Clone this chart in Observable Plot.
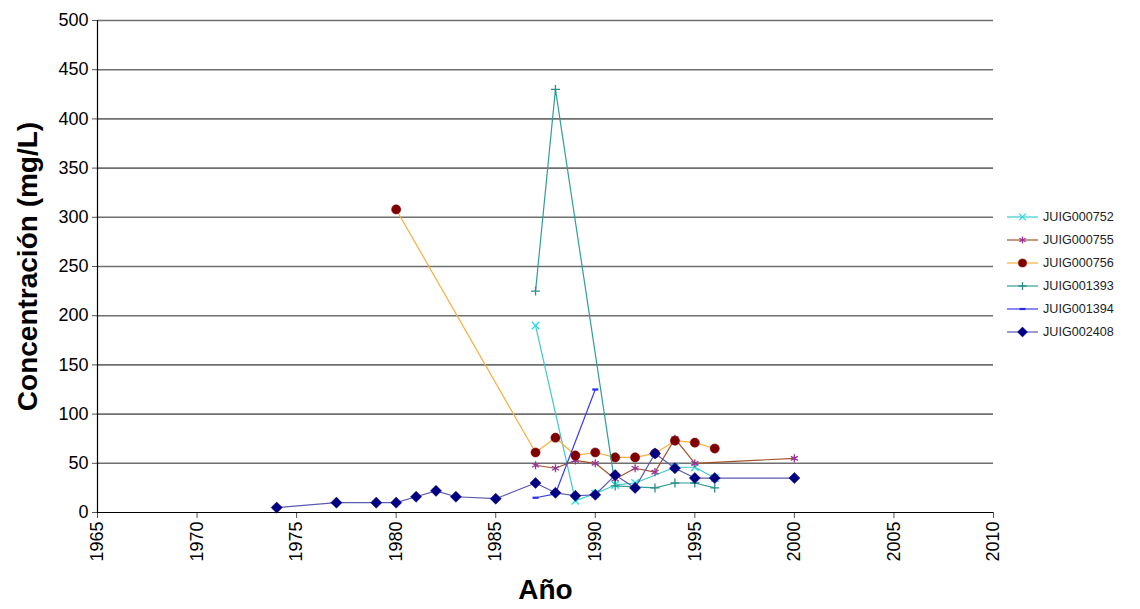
<!DOCTYPE html>
<html>
<head>
<meta charset="utf-8">
<script src="https://cdn.jsdelivr.net/npm/d3@7"></script>
<script src="https://cdn.jsdelivr.net/npm/@observablehq/plot@0.6"></script>
<style>
  body { margin: 0; background: #fff; }
  #wrap { position: relative; width: 1140px; height: 609px; overflow: hidden; background: #fff; }
  #legend { position: absolute; left: 1006px; top: 205px; font-family: 'Liberation Sans', Arial, sans-serif; font-size: 12.6px; color: #222; }
  #legend .row { display: flex; align-items: center; height: 23.1px; }
  #legend svg { display: block; margin-right: 4px; }
  g[aria-label="x-axis label"] text, g[aria-label="y-axis label"] text { font-weight: bold; font-size: 28px; }
</style>
</head>
<body>
<div id="wrap"><div id="legend"></div></div>
<script>
// Concentration (mg/L) per station and sampling year
const years752 = [1987, 1989, 1990, 1991, 1992, 1994, 1995, 1996];
const conc752  = [190, 12, 19, 28, 30, 46, 46, 35];

const years755 = [1987, 1988, 1989, 1990, 1991, 1992, 1993, 1994, 1995, 2000];
const conc755  = [48, 45, 53, 50, 34, 45, 41, 75, 50, 55];

const years756 = [1980, 1987, 1988, 1989, 1990, 1991, 1992, 1993, 1994, 1995, 1996];
const conc756  = [308, 61, 76, 58, 61, 56, 56, 60, 73, 71, 65];

const years1393 = [1987, 1988, 1991, 1992, 1993, 1994, 1995, 1996];
const conc1393  = [225, 430, 27, 26, 25, 30, 30, 25];

const years1394 = [1987, 1988, 1990];
const conc1394  = [15, 19, 125];

const years2408 = [1974, 1977, 1979, 1980, 1981, 1982, 1983, 1985, 1987, 1988, 1989, 1990, 1991, 1992, 1993, 1994, 1995, 1996, 2000];
const conc2408  = [5, 10, 10, 10, 16, 22, 16, 14, 30, 20, 17, 18, 38, 25, 60, 45, 35, 35, 35];

const xTicks = [1965, 1970, 1975, 1980, 1985, 1990, 1995, 2000, 2005, 2010];
const yTicks = [0, 50, 100, 150, 200, 250, 300, 350, 400, 450, 500];

// short horizontal bar used as a marker
const dash = {
  draw(context, size) {
    const r = Math.sqrt(size / Math.PI);
    context.moveTo(-r, 0);
    context.lineTo(r, 0);
  }
};

const series = [
  {name: "JUIG000752", years: years752,  values: conc752,  line: "#3ccaca", mark: "#22e0e0", symbol: "times",    filled: false, r: 3.5},
  {name: "JUIG000755", years: years755,  values: conc755,  line: "#a0522d", mark: "#993399", symbol: "asterisk", filled: false, r: 3.8},
  {name: "JUIG000756", years: years756,  values: conc756,  line: "#f5b040", mark: "#800000", symbol: "circle",   filled: true,  r: 4.6},
  {name: "JUIG001393", years: years1393, values: conc1393, line: "#2f9e98", mark: "#2a8f8a", symbol: "plus",     filled: false, r: 3},
  {name: "JUIG001394", years: years1394, values: conc1394, line: "#3b3bf0", mark: "#2a2ae6", symbol: dash,       filled: false, r: 3},
  {name: "JUIG002408", years: years2408, values: conc2408, line: "#5a5ab0", mark: "#000080", symbol: "diamond2", filled: true,  r: 5}
];

const rows = series.flatMap(s => s.years.map((year, i) => ({station: s.name, year, value: s.values[i]})));

const seriesMarks = series.flatMap(s => {
  const data = rows.filter(d => d.station === s.name);
  return [
    Plot.line(data, {x: "year", y: "value", stroke: s.line, strokeWidth: 1.2}),
    Plot.dot(data, {
      x: "year", y: "value", symbol: s.symbol, r: s.r,
      fill: s.filled ? s.mark : "none",
      stroke: s.mark,
      strokeWidth: s.filled ? 0.5 : (s.symbol === dash ? 2.2 : 1.3)
    })
  ];
});

const chart = Plot.plot({
  width: 1140,
  height: 609,
  marginLeft: 97,
  marginRight: 147,
  marginTop: 20,
  marginBottom: 97,
  style: {fontFamily: "'Liberation Sans', Arial, sans-serif", fontSize: "18px", color: "#000", background: "transparent"},
  x: {domain: [1965, 2010], label: "Año"},
  y: {domain: [0, 500], label: "Concentración (mg/L)"},
  marks: [
    Plot.gridY(yTicks.filter(d => d > 0), {stroke: "#6f6f6f", strokeOpacity: 1, strokeWidth: 1.6}),
    Plot.axisY(yTicks, {
      tickSize: 5, tickPadding: 4, stroke: "#555", fontSize: 18,
      label: "Concentración (mg/L)", labelAnchor: "center", labelArrow: "none", labelOffset: 80
    }),
    Plot.axisX(xTicks, {
      tickSize: 6, tickPadding: 3, tickRotate: -90, stroke: "#555", fontSize: 18,
      tickFormat: d => String(d),
      label: "Año", labelAnchor: "center", labelArrow: "none", labelOffset: 86
    }),
    Plot.ruleX([1965], {stroke: "#000", strokeWidth: 1.2}),
    Plot.ruleY([0], {stroke: "#000", strokeWidth: 1.2}),
    ...seriesMarks
  ]
});

document.getElementById("wrap").prepend(chart);

// legend: line sample with the station's marker
const legend = d3.select("#legend");
const legendSymbols = {times: d3.symbolTimes, asterisk: d3.symbolAsterisk, circle: d3.symbolCircle, plus: d3.symbolPlus, diamond2: d3.symbolDiamond2};
series.forEach(s => {
  const row = legend.append("div").attr("class", "row");
  const svg = row.append("svg").attr("width", 33).attr("height", 12);
  svg.append("line").attr("x1", 1).attr("x2", 32).attr("y1", 6).attr("y2", 6)
    .attr("stroke", s.line).attr("stroke-width", 1.2);
  const g = svg.append("g").attr("transform", "translate(16.5,6)");
  const size = Math.PI * s.r * s.r;
  if (s.symbol === dash) {
    g.append("line").attr("x1", -3).attr("x2", 3).attr("stroke", s.mark).attr("stroke-width", 2.2);
  } else {
    g.append("path").attr("d", d3.symbol(legendSymbols[s.symbol], size * 0.8)())
      .attr("fill", s.filled ? s.mark : "none")
      .attr("stroke", s.mark)
      .attr("stroke-width", s.filled ? 0.5 : 1.3);
  }
  row.append("span").text(s.name);
});
</script>
</body>
</html>
